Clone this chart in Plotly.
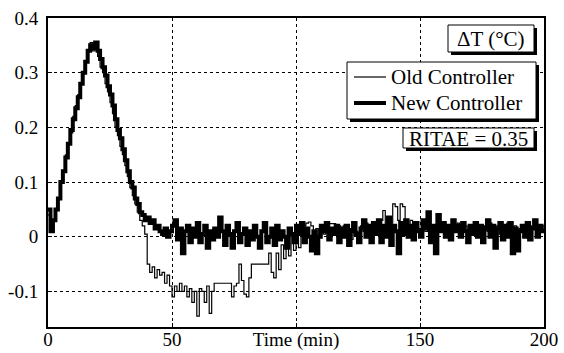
import plotly.graph_objects as go

time_min = list(range(0, 201))

old_controller = [
    0.04, 0.02, 0.03, 0.05, 0.07, 0.10, 0.12, 0.15, 0.17, 0.19,
    0.22, 0.24, 0.26, 0.28, 0.30, 0.32, 0.34, 0.355, 0.34, 0.355,
    0.33, 0.31, 0.30, 0.28, 0.265, 0.245, 0.225, 0.20, 0.185, 0.165,
    0.15, 0.13, 0.11, 0.09, 0.075, 0.06, 0.045, 0.03, 0.02, 0.005,
    -0.05, -0.065, -0.055, -0.075, -0.06, -0.07, -0.065, -0.085, -0.07, -0.09,
    -0.11, -0.09, -0.10, -0.085, -0.10, -0.09, -0.11, -0.095, -0.12, -0.10,
    -0.145, -0.095, -0.10, -0.12, -0.09, -0.14, -0.10, -0.085, -0.085, -0.085,
    -0.085, -0.085, -0.085, -0.085, -0.11, -0.09, -0.085, -0.05, -0.08, -0.105,
    -0.11, -0.075, -0.05, -0.05, -0.05, -0.05, -0.05, -0.05, -0.05, -0.03,
    -0.065, -0.075, -0.03, -0.06, -0.015, -0.04, -0.01, -0.035, 0.0, -0.025,
    0.005,
    -0.02, 0.01, 0.02, 0.025, 0.027, 0.02, -0.005, 0.015, 0.0, 0.01,
    0.005, 0.024, 0.024, 0.024, 0.024, 0.01, 0.02, 0.015, 0.02, 0.01,
    0.015, -0.005, 0.02, 0.01, 0.0, 0.02, 0.01, 0.025, 0.0, 0.015,
    0.01, 0.02, 0.005, 0.03, 0.048, 0.015, 0.035, 0.025, 0.06, 0.055,
    0.03, 0.06, 0.055, 0.02, 0.01, 0.03, 0.0, 0.02, 0.015, 0.005,
    0.02, 0.01, 0.04, 0.005, 0.015, 0.0, 0.025, 0.015, 0.02, 0.01,
    0.015, 0.005, 0.02, 0.015, 0.025, 0.01, 0.02, 0.02, 0.005, 0.015,
    0.02, 0.01, 0.02, 0.005, 0.015, 0.02, 0.01, 0.025, 0.0, 0.015,
    0.02, 0.005, 0.02, 0.015, 0.025, 0.01, 0.0, 0.02, 0.005, 0.015,
    0.01, 0.02, 0.005, 0.02, 0.015, 0.025, 0.01, 0.015, 0.02, 0.01,
]

new_controller = [
    0.05, 0.01, 0.03, 0.05, 0.07, 0.10, 0.12, 0.145, 0.17, 0.195,
    0.215, 0.235, 0.255, 0.28, 0.30, 0.32, 0.34, 0.35, 0.345, 0.355,
    0.34, 0.325, 0.31, 0.295, 0.275, 0.26, 0.24, 0.215, 0.195, 0.18,
    0.16, 0.14, 0.12, 0.10, 0.09, 0.07, 0.06, 0.045, 0.04, 0.03,
    0.035, 0.025, 0.03, 0.015, 0.02, 0.01, 0.005, 0.015, 0.0, 0.01,
    0.02,
    0.03, -0.005, 0.015, -0.03, 0.01, 0.02, -0.01, 0.015, 0.0, 0.025,
    -0.01, 0.005, 0.02, -0.02, 0.01, -0.005, 0.015, 0.0, 0.035, 0.01,
    -0.015, 0.02, 0.005, -0.02, 0.01, 0.025, -0.01, 0.005, 0.015, -0.015,
    0.01, -0.005, 0.02, 0.0, -0.02, 0.01, 0.025, -0.01, 0.0, 0.015,
    -0.015, 0.02, -0.005, 0.01, 0.0, -0.02, 0.015, 0.005, -0.01, 0.02,
    0.005, 0.025, -0.01, 0.015, 0.0, -0.025, 0.01, -0.03, 0.0, 0.02,
    0.01, 0.025, -0.005, 0.015, 0.005, 0.02, -0.01, 0.015, 0.0, 0.02,
    -0.015, 0.01, 0.025, 0.005, -0.01, 0.015, 0.03, 0.0, 0.02, -0.01,
    0.025, 0.005, 0.03, -0.01, 0.02, 0.0, 0.035, -0.015, 0.02, 0.01,
    -0.03, 0.025, 0.005, 0.03, 0.0, 0.02, -0.005, 0.025, 0.01, 0.0,
    0.03, 0.015, 0.045, -0.01, 0.02, -0.03, 0.04, 0.01, 0.025, 0.0,
    0.02, -0.005, 0.03, 0.01, 0.02, 0.0, 0.025, 0.01, -0.01, 0.02,
    0.005, 0.025, 0.0, 0.02, -0.01, 0.015, 0.03, 0.0, 0.02, -0.02,
    0.015, 0.025, -0.005, 0.02, 0.0, 0.025, -0.03, 0.015, -0.025, 0.01,
    0.02, 0.0, 0.025, -0.005, 0.015, 0.03, 0.0, 0.02, 0.01, 0.015,
]

x_tickvals = [0, 50, 100, 150, 200]
x_ticktext = ["0", "50", "Time (min)", "150", "200"]
y_tickvals = [-0.1, 0, 0.1, 0.2, 0.3, 0.4]
y_ticktext = ["-0.1", "0", "0.1", "0.2", "0.3", "0.4"]

W, H = 564, 353
L, R, T, B = 48, 544, 18, 327
FONT = "Liberation Serif, Times New Roman, serif"
FS = 19
FS_BOX = 21


def px(x):
    return (x - L) / (R - L)


def py(y):
    return (B - y) / (B - T)


fig = go.Figure()
fig.add_trace(go.Scatter(
    x=time_min, y=old_controller, name="Old Controller", mode="lines",
    line=dict(color="black", width=1.2, shape="hv"),
))
fig.add_trace(go.Scatter(
    x=time_min, y=new_controller, name="New Controller", mode="lines",
    line=dict(color="black", width=4, shape="hv"),
))

shapes = []
annotations = []


def shadow_box(x0, y0, x1, y1, off=3):
    shapes.append(dict(type="rect", xref="paper", yref="paper",
                       x0=px(x0 + off), x1=px(x1 + off), y0=py(y1 + off), y1=py(y0 + off),
                       fillcolor="black", line=dict(width=0), layer="above"))
    shapes.append(dict(type="rect", xref="paper", yref="paper",
                       x0=px(x0), x1=px(x1), y0=py(y1), y1=py(y0),
                       fillcolor="white", line=dict(color="black", width=1), layer="above"))


def label(x, y, text, anchor="center", size=FS_BOX):
    annotations.append(dict(xref="paper", yref="paper", x=px(x), y=py(y),
                            xanchor=anchor, yanchor="middle", text=text,
                            showarrow=False,
                            font=dict(family=FONT, size=size, color="black")))


shadow_box(448, 25, 534, 52)
label(491, 39, "ΔT (°C)")

shadow_box(403, 128, 534, 148)
label(468.5, 138.5, "RITAE = 0.35")

# legend box with shadow, entries drawn with shapes + text
shadow_box(347, 62, 536, 119)
shapes.append(dict(type="line", xref="paper", yref="paper",
                   x0=px(354), x1=px(386), y0=py(77), y1=py(77),
                   line=dict(color="black", width=1.2), layer="above"))
shapes.append(dict(type="line", xref="paper", yref="paper",
                   x0=px(354), x1=px(386), y0=py(103), y1=py(103),
                   line=dict(color="black", width=4), layer="above"))
label(389, 77, "Old Controller", anchor="left")
label(389, 103, "New Controller", anchor="left")

fig.update_layout(
    width=W, height=H,
    margin=dict(l=L, r=W - R, t=T, b=H - B, pad=0, autoexpand=False),
    paper_bgcolor="white", plot_bgcolor="white",
    font=dict(family=FONT, size=FS, color="black"),
    showlegend=False,
    shapes=shapes,
    annotations=annotations,
)
fig.update_xaxes(range=[0, 200], tickvals=x_tickvals, ticktext=x_ticktext,
                 showgrid=True, gridcolor="black", gridwidth=1, griddash="dot",
                 showline=True, linecolor="black", linewidth=2, mirror=True,
                 ticks="inside", ticklen=4, tickcolor="black", zeroline=False,
                 automargin=False, ticklabelstandoff=-6)
fig.update_yaxes(range=[-0.165, 0.4], tickvals=y_tickvals, ticktext=y_ticktext,
                 showgrid=True, gridcolor="black", gridwidth=1, griddash="dot",
                 showline=True, linecolor="black", linewidth=2, mirror=True,
                 ticks="inside", ticklen=4, tickcolor="black", zeroline=False,
                 automargin=False, ticklabelstandoff=4)

fig.write_html(
    "out.html",
    config={"displayModeBar": False},
    post_script="document.body.style.margin='0px';document.body.style.overflow='hidden';",
)
